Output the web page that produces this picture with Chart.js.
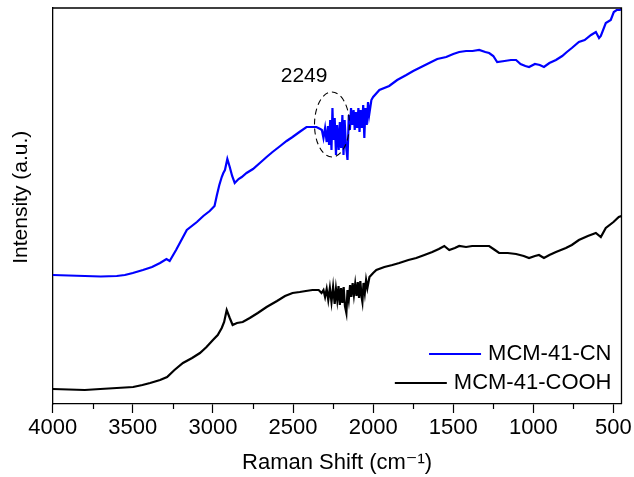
<!DOCTYPE html>
<html>
<head>
<meta charset="utf-8">
<script src="https://cdn.jsdelivr.net/npm/chart.js@4"></script>
<style>
  html, body { margin: 0; padding: 0; background: #fff; }
  #wrap { width: 634px; height: 477px; }
</style>
</head>
<body>
<div id="wrap"><canvas id="c" width="634" height="477"></canvas></div>
<script>
// ---------- data ----------
const seriesLabels = ['MCM-41-CN', 'MCM-41-COOH'];

const cnShift = [4000,3900,3800,3700,3600,3550,3500,3437,3380,3330,3290,3270,3230,3163,3100,3060,3020,2990,2975,2960,2945,2935,2925,2910,2895,2880,2864,2840,2820,2790,2750,2700,2665,2628,2580,2540,2503,2460,2416,2380,2354,2330,2320,2310,2300,2290,2282,2275,2268,2260,2254,2248,2240,2232,2225,2215,2208,2200,2192,2185,2178,2170,2160,2152,2145,2138,2130,2122,2115,2108,2100,2092,2085,2078,2070,2062,2055,2048,2040,2032,2025,2011,2000,1961,1900,1850,1793,1750,1700,1650,1600,1544,1500,1463,1420,1380,1338,1300,1276,1250,1226,1180,1140,1108,1080,1050,1027,990,960,934,900,859,820,791,760,716,680,640,610,590,579,548,517,498,480,460,450];
const cnIntensity = [128,127.5,127,126.5,127,128,130,133,136,140,144,142,153,173,181,187,192,197,208,218,226,230,233,244,236,227,220,224,226,230,234,241,246,251,257,262,266,271,276,276,276,274,273,265,275,261,277,258,283,253,295,263,285,248,278,253,281,255,288,248,283,258,243,288,273,295,278,293,273,291,275,295,271,293,275,298,265,295,278,301,288,303,306,313,317,323,328,332,336,340,344,346,349,351,352,352,353,351,350,347,341,342,343,343,339,337,336,339,338,336,340,343,347,351,355,361,363,368,371,365,367,380,383,391,393,393,394];

const coohShift = [4000,3900,3800,3703,3600,3498,3440,3392,3330,3286,3240,3187,3130,3081,3040,3000,2970,2945,2930,2914,2895,2877,2850,2814,2770,2720,2665,2600,2550,2503,2458,2420,2379,2340,2322,2310,2300,2290,2280,2270,2260,2250,2240,2232,2224,2216,2208,2200,2192,2184,2176,2167,2160,2152,2144,2136,2128,2120,2112,2104,2096,2088,2080,2072,2067,2060,2052,2044,2036,2023,2000,1980,1930,1880,1837,1780,1731,1680,1631,1590,1556,1525,1490,1463,1420,1382,1330,1276,1240,1214,1160,1108,1060,1027,990,965,934,900,859,797,760,716,660,610,579,548,500,467,450];
const coohIntensity = [14,13.5,13,14,15,16,18,20,23,26,33,40,45,50,56,63,68,75,81,93,85,78,80,81,85,90,96,102,107,110,111,112,113,113,110,113,106,114,103,115,101,116,99,114,103,117,98,115,100,116,97,90,113,103,118,106,120,108,119,107,121,105,122,106,101,120,110,123,115,126,130,133,136,138,140,143,145,148,151,154,157,153,155,157,156,157,157,157,153,150,150,149,147,145,147,148,145,148,151,155,158,163,167,170,166,175,181,186,187];

const xTickValues = [4000,3750,3500,3250,3000,2750,2500,2250,2000,1750,1500,1250,1000,750,500];
const xLabelStep = 500;

// annotation: "2249" label and dashed ellipse round the C≡N band (data units)
const peakLabel = '2249';
const peakLabelAt = [2431, 327];
const ellipseCenter = [2257, 278.5];
const ellipseHalf = [109, 32.5];

// ---------- chart ----------
const FONT = '"Liberation Sans", Arial, "DejaVu Sans", sans-serif';
const toPoints = (xs, ys) => xs.map((v, i) => ({ x: v, y: ys[i] }));
const colors = ['#0000ff', '#000000'];

const overlay = {
  id: 'overlay',
  afterDatasetsDraw(chart) {
    const { ctx, chartArea: a, scales: { x, y } } = chart;
    ctx.save();
    // top & right frame
    ctx.strokeStyle = '#000';
    ctx.lineWidth = 1.3;
    ctx.beginPath();
    ctx.moveTo(a.left, a.top);
    ctx.lineTo(a.right, a.top);
    ctx.lineTo(a.right, a.bottom);
    ctx.stroke();
    // minor ticks
    ctx.lineWidth = 1.2;
    xTickValues.filter(v => v % xLabelStep !== 0).forEach(v => {
      const px = Math.round(x.getPixelForValue(v)) + 0.5;
      ctx.beginPath();
      ctx.moveTo(px, a.bottom);
      ctx.lineTo(px, a.bottom + 5);
      ctx.stroke();
    });
    // dashed ellipse
    const cx = x.getPixelForValue(ellipseCenter[0]);
    const cy = y.getPixelForValue(ellipseCenter[1]);
    const rx = Math.abs(x.getPixelForValue(ellipseCenter[0] + ellipseHalf[0]) - cx);
    const ry = Math.abs(y.getPixelForValue(ellipseCenter[1] + ellipseHalf[1]) - cy);
    ctx.setLineDash([6, 4]);
    ctx.lineWidth = 1.1;
    ctx.beginPath();
    ctx.ellipse(cx, cy, rx, ry, 0, 0, Math.PI * 2);
    ctx.stroke();
    ctx.setLineDash([]);
    // peak label
    ctx.fillStyle = '#000';
    ctx.font = '21px ' + FONT;
    ctx.textAlign = 'center';
    ctx.textBaseline = 'middle';
    ctx.fillText(peakLabel, x.getPixelForValue(peakLabelAt[0]), y.getPixelForValue(peakLabelAt[1]));
    // legend (bottom right, inside plot)
    ctx.font = '22px ' + FONT;
    ctx.textAlign = 'right';
    const right = a.right - 10;
    const rows = [a.bottom - 50, a.bottom - 21];
    chart.data.datasets.forEach((ds, i) => {
      const w = ctx.measureText(ds.label).width;
      ctx.fillStyle = '#000';
      ctx.fillText(ds.label, right, rows[i]);
      ctx.strokeStyle = ds.borderColor;
      ctx.lineWidth = 2;
      ctx.beginPath();
      ctx.moveTo(right - w - 7 - 52, rows[i]);
      ctx.lineTo(right - w - 7, rows[i]);
      ctx.stroke();
    });
    ctx.restore();
  }
};

new Chart(document.getElementById('c'), {
  type: 'line',
  data: {
    datasets: [
      { label: seriesLabels[0], data: toPoints(cnShift, cnIntensity), borderColor: colors[0], borderWidth: 2.2, pointRadius: 0, tension: 0, fill: false },
      { label: seriesLabels[1], data: toPoints(coohShift, coohIntensity), borderColor: colors[1], borderWidth: 2.2, pointRadius: 0, tension: 0, fill: false }
    ]
  },
  options: {
    responsive: false,
    animation: false,
    events: [],
    layout: { padding: { top: 8, right: 12, left: 0, bottom: 0 } },
    plugins: { legend: { display: false }, tooltip: { enabled: false } },
    scales: {
      x: {
        type: 'linear',
        reverse: true,
        min: 450,
        max: 4000,
        afterBuildTicks: s => { s.ticks = xTickValues.map(v => ({ value: v })); },
        afterFit: s => { s.height = 73; },
        ticks: {
          autoSkip: false,
          maxRotation: 0,
          padding: 2,
          color: '#000',
          font: { family: FONT, size: 22 },
          callback: v => (v % xLabelStep === 0 ? String(v) : '')
        },
        grid: {
          drawOnChartArea: false,
          drawTicks: true,
          tickLength: 9,
          tickWidth: 1.2,
          tickColor: c => (c.tick && c.tick.value % xLabelStep === 0 ? '#000' : 'rgba(0,0,0,0)')
        },
        border: { display: true, color: '#000', width: 1.3 },
        title: {
          display: true,
          text: 'Raman Shift (cm\u207B\u00B9)',
          color: '#000',
          font: { family: FONT, size: 22 },
          padding: { top: 0, bottom: 1 }
        }
      },
      y: {
        type: 'linear',
        min: -1,
        max: 395,
        afterFit: s => { s.width = 52.7; },
        ticks: { display: false },
        grid: { display: false },
        border: { display: true, color: '#000', width: 1.3 },
        title: {
          display: true,
          text: '   Intensity (a.u.)',
          color: '#000',
          font: { family: FONT, size: 21 },
          padding: { top: 9, bottom: 0 }
        }
      }
    }
  },
  plugins: [overlay]
});
</script>
</body>
</html>
